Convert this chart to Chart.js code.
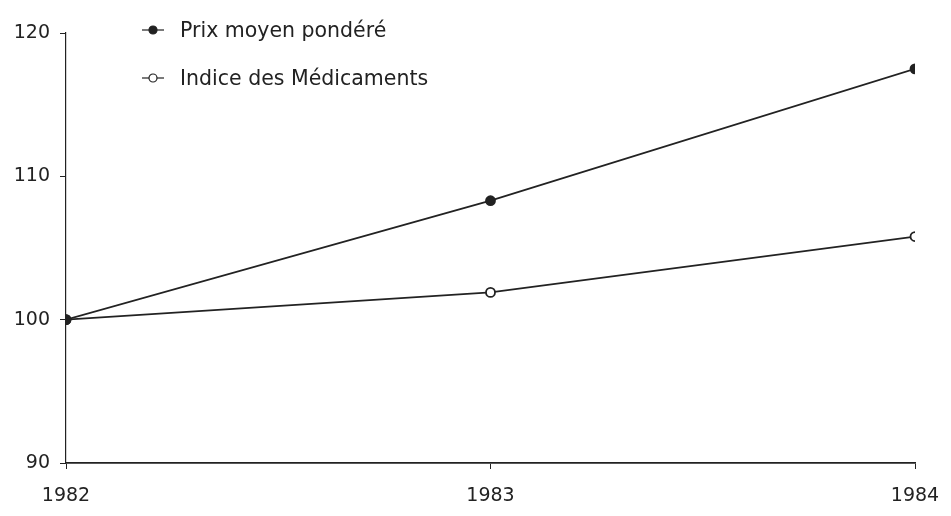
<!DOCTYPE html>
<html>
<head>
<meta charset="utf-8">
<script src="https://cdn.jsdelivr.net/npm/chart.js@4.4.0/dist/chart.umd.min.js"></script>
<style>
  html, body { margin: 0; padding: 0; background: #fff; }
  #wrap { position: relative; width: 951px; height: 516px; }
  .leg { position: absolute; left: 140px; font-family: "DejaVu Sans", sans-serif; font-size: 20.5px; color: #222; display: flex; align-items: center; }
  .leg canvas { margin-right: 14px; }
</style>
</head>
<body>
<div id="wrap">
  <canvas id="chart" width="951" height="516"></canvas>
  <div class="leg" style="top:18px"><canvas id="leg1" width="26" height="20"></canvas><span>Prix moyen pondéré</span></div>
  <div class="leg" style="top:66px"><canvas id="leg2" width="26" height="20"></canvas><span>Indice des Médicaments</span></div>
</div>
<script>
// --- Data ---
const years = [1982, 1983, 1984];
const prixMoyen = [100, 108.3, 117.5];
const indiceMedic = [100, 101.9, 105.8];
const yTicks = [90, 100, 110, 120];
const seriesNames = ["Prix moyen pondéré", "Indice des Médicaments"];

const ink = "#222";

// --- Legend markers ---
function drawMarker(id, filled) {
    const c = document.getElementById(id).getContext('2d');
    c.strokeStyle = ink;
    c.lineWidth = 1.2;
    c.beginPath(); c.moveTo(2, 10); c.lineTo(24, 10); c.stroke();
    c.beginPath(); c.arc(13, 10, 4, 0, Math.PI * 2);
    c.fillStyle = filled ? ink : "#fff";
    c.fill(); c.stroke();
}
drawMarker('leg1', true);
drawMarker('leg2', false);

// --- Chart ---
new Chart(document.getElementById('chart').getContext('2d'), {
    type: 'line',
    data: {
        datasets: [
            {
                label: seriesNames[0],
                data: years.map((y, i) => ({ x: y, y: prixMoyen[i] })),
                borderColor: ink,
                borderWidth: 1.8,
                pointRadius: 4.5,
                pointBackgroundColor: ink,
                pointBorderColor: ink,
                tension: 0
            },
            {
                label: seriesNames[1],
                data: years.map((y, i) => ({ x: y, y: indiceMedic[i] })),
                borderColor: ink,
                borderWidth: 1.8,
                pointRadius: 4.5,
                pointBackgroundColor: "#fff",
                pointBorderColor: ink,
                tension: 0
            }
        ]
    },
    options: {
        responsive: false,
        animation: false,
        layout: { padding: { top: 33, right: 36, left: 0, bottom: 0 } },
        plugins: { legend: { display: false }, tooltip: { enabled: false } },
        scales: {
            x: {
                type: 'linear',
                min: years[0],
                max: years[years.length - 1],
                afterBuildTicks: s => { s.ticks = years.map(v => ({ value: v })); },
                afterFit: s => { s.height = 53; s.paddingRight = 0; s.paddingLeft = 0; },
                grid: { drawOnChartArea: false, color: ink, tickLength: 6, offset: false },
                border: { color: ink, width: 1.8 },
                ticks: {
                    color: ink,
                    padding: 16,
                    maxRotation: 0,
                    font: { family: "DejaVu Sans", size: 19 },
                    callback: v => String(v)
                }
            },
            y: {
                min: yTicks[0],
                max: yTicks[yTicks.length - 1],
                afterBuildTicks: s => { s.ticks = yTicks.map(v => ({ value: v })); },
                afterFit: s => { s.width = 66; },
                grid: { drawOnChartArea: false, color: ink, tickLength: 6 },
                border: { color: ink, width: 1.2 },
                ticks: {
                    color: ink,
                    padding: 10,
                    font: { family: "DejaVu Sans", size: 19 }
                }
            }
        }
    }
});
</script>
</body>
</html>
